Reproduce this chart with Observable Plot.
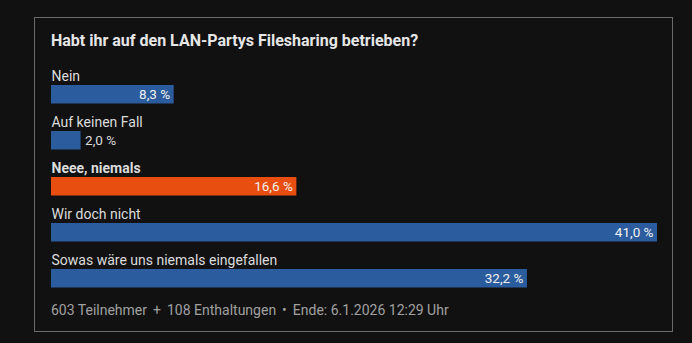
<!DOCTYPE html>
<html>
<head>
<meta charset="utf-8">
<script src="https://cdn.jsdelivr.net/npm/d3@7"></script>
<script src="https://cdn.jsdelivr.net/npm/@observablehq/plot@0.6"></script>
<style>
  html, body { margin: 0; padding: 0; background: #111111; }
  body { width: 692px; height: 343px; position: relative; overflow: hidden; font-family: Roboto, "Noto Sans", sans-serif; }
  #box { position: absolute; left: 34px; top: 17px; width: 637px; height: 313px; border: 1px solid #6b6b6b; }
  #title { position: absolute; left: 51px; top: 31px; font-size: 16px; font-weight: 700; color: #e6e6e6; white-space: nowrap; }
  #chart { position: absolute; left: 0; top: 60px; }
  #footer { position: absolute; left: 51px; top: 302px; font-size: 14px; color: #a0a0a0; white-space: nowrap; }
  #footer .sep { margin: 0 6px; }
</style>
</head>
<body>
<div id="box"></div>
<div id="title"></div>
<div id="chart"></div>
<div id="footer"></div>
<script>
const title = "Habt ihr auf den LAN-Partys Filesharing betrieben?";
const options = ["Nein", "Auf keinen Fall", "Neee, niemals", "Wir doch nicht", "Sowas wäre uns niemals eingefallen"];
const percents = [8.3, 2.0, 16.6, 41.0, 32.2];
const highlighted = "Neee, niemals";
const footerParts = ["603 Teilnehmer", "+", "108 Enthaltungen", "•", "Ende: 6.1.2026 12:29 Uhr"];

const fmt = v => v.toFixed(1).replace(".", ",") + " %";
const data = options.map((o, i) => ({option: o, pct: percents[i], label: fmt(percents[i]), hi: o === highlighted}));
const maxPct = d3.max(percents);
const inside = d => d.pct / maxPct > 0.1;

document.getElementById("title").textContent = title;
document.getElementById("footer").innerHTML = footerParts.map((p, i) => i % 2 ? `<span class="sep">${p}</span>` : p).join("");

const rowH = 46.5;
const labelOpts = {y: "option", x: 0, text: "option", textAnchor: "start", dy: -8, fontSize: 14, fill: "#dcdcdc"};
const chart = Plot.plot({
  width: 692,
  height: rowH * options.length,
  marginLeft: 51,
  marginRight: 35,
  marginTop: 0,
  marginBottom: 0,
  style: {background: "transparent", fontFamily: "Roboto, 'Noto Sans', sans-serif"},
  x: {domain: [0, maxPct], axis: null},
  y: {domain: options, axis: null, padding: 0},
  color: {domain: [false, true], range: ["#2b5c9e", "#e84e0f"]},
  marks: [
    Plot.barX(data, {y: "option", x: "pct", fill: "hi", insetTop: 24, insetBottom: 3.5}),
    Plot.text(data.filter(d => !d.hi), labelOpts),
    Plot.text(data.filter(d => d.hi), {...labelOpts, fontWeight: "bold"}),
    Plot.text(data.filter(inside), {y: "option", x: "pct", text: "label", textAnchor: "end", dx: -4, dy: 10.5, fontSize: 13.5, fill: "#f0f0f0"}),
    Plot.text(data.filter(d => !inside(d)), {y: "option", x: "pct", text: "label", textAnchor: "start", dx: 4, dy: 10.5, fontSize: 13.5, fill: "#dcdcdc"})
  ]
});
document.getElementById("chart").appendChild(chart);
</script>
</body>
</html>
